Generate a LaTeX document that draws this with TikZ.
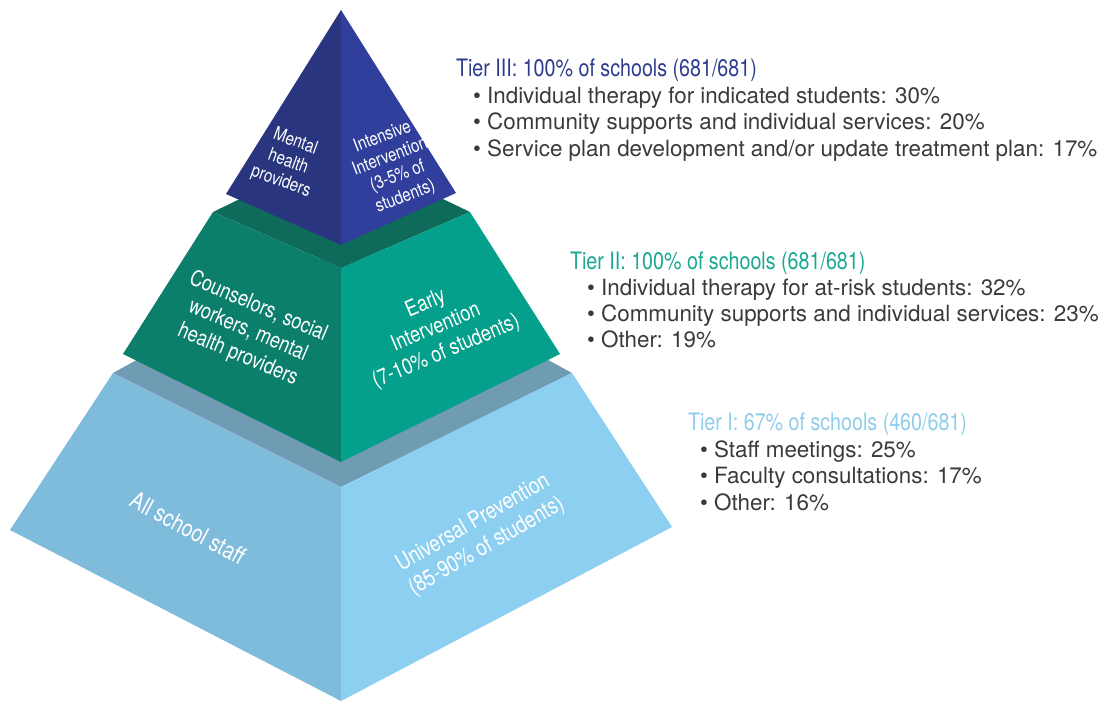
\documentclass[tikz,border=0pt]{standalone}
\usepackage{fontspec}
\setmainfont{TeX Gyre Heros}
\newfontfamily\condfont[FakeStretch=0.82]{TeX Gyre Heros}
\definecolor{topL}{HTML}{29367F}
\definecolor{topR}{HTML}{2F3F9B}
\definecolor{midT}{HTML}{0E6B5A}
\definecolor{midL}{HTML}{0B7E6C}
\definecolor{midR}{HTML}{04A08C}
\definecolor{lowT}{HTML}{6F9CB2}
\definecolor{lowL}{HTML}{7FBCDC}
\definecolor{lowR}{HTML}{8DCFF1}
\definecolor{headIII}{HTML}{2E3C8F}
\definecolor{headII}{HTML}{1BA892}
\definecolor{headI}{HTML}{8FCDEB}
\definecolor{bodygrey}{HTML}{3A3A3A}

\begin{document}
\begin{tikzpicture}[x=0.5pt,y=-0.5pt,
  facetext/.style={text=white,align=center,inner sep=1pt,font=\condfont\fontsize{11}{13}\selectfont},
  smallface/.style={facetext,font=\condfont\fontsize{9.2}{10.6}\selectfont},
  tiertitle/.style={anchor=base west,font=\condfont\fontsize{12}{14}\selectfont},
  bulletline/.style={anchor=base west,text=bodygrey,font=\fontsize{11.2}{13}\selectfont}]
\useasboundingbox (0,0) rectangle (1103,706);

\fill[lowT] (113,373)--(341,247)--(572,373)--(341,487)--cycle;
\fill[lowL] (113,373)--(341,487)--(341,701)--(10,530)--cycle;
\fill[lowR] (341,487)--(572,373)--(672,527)--(341,701)--cycle;
\fill[midT] (213,212)--(341,150)--(470,212)--(341,268)--cycle;
\fill[midL] (213,212)--(341,268)--(341,462)--(123,354)--cycle;
\fill[midR] (341,268)--(470,212)--(560,354)--(341,462)--cycle;
\fill[topL] (341,10)--(341,245)--(226,194)--cycle;
\fill[topR] (341,10)--(456,193)--(341,245)--cycle;

\node[smallface,rotate=-20] (mhp) at (288,162) {Mental\\health\\providers};
\node[smallface,rotate=21] (intv) at (394,167) {Intensive\\Intervention\\(3-5\% of\\students)};
\node[facetext,rotate=-23] (csw) at (248,331) {Counselors, social\\workers, mental\\health providers};
\node[facetext,rotate=23] (early) at (436,328) {Early\\Intervention\\(7-10\% of students)};
\node[facetext,rotate=-28,font=\condfont\fontsize{12}{14}\selectfont] (staff) at (188,528) {All school staff};
\node[facetext,rotate=30,font=\condfont\fontsize{11.5}{13.5}\selectfont] (univ) at (480,535) {Universal Prevention\\(85-90\% of students)};

\node[tiertitle,text=headIII] (t3) at (449,77) {Tier III: 100\% of schools (681/681)};
\node[bulletline] (t3a) at (466,104) {\textbullet\ Individual therapy for indicated students: 30\%};
\node[bulletline] (t3b) at (466,130) {\textbullet\ Community supports and individual services: 20\%};
\node[bulletline] (t3c) at (466,156) {\textbullet\ Service plan development and/or update treatment plan: 17\%};

\node[tiertitle,text=headII] (t2) at (563,269) {Tier II: 100\% of schools (681/681)};
\node[bulletline] (t2a) at (580,295) {\textbullet\ Individual therapy for at-risk students: 32\%};
\node[bulletline] (t2b) at (580,321) {\textbullet\ Community supports and individual services: 23\%};
\node[bulletline] (t2c) at (580,347) {\textbullet\ Other: 19\%};

\node[tiertitle,text=headI] (t1) at (681,430) {Tier I: 67\% of schools (460/681)};
\node[bulletline] (t1a) at (693,457) {\textbullet\ Staff meetings: 25\%};
\node[bulletline] (t1b) at (693,483) {\textbullet\ Faculty consultations: 17\%};
\node[bulletline] (t1c) at (693,510) {\textbullet\ Other: 16\%};
\end{tikzpicture}
\end{document}
